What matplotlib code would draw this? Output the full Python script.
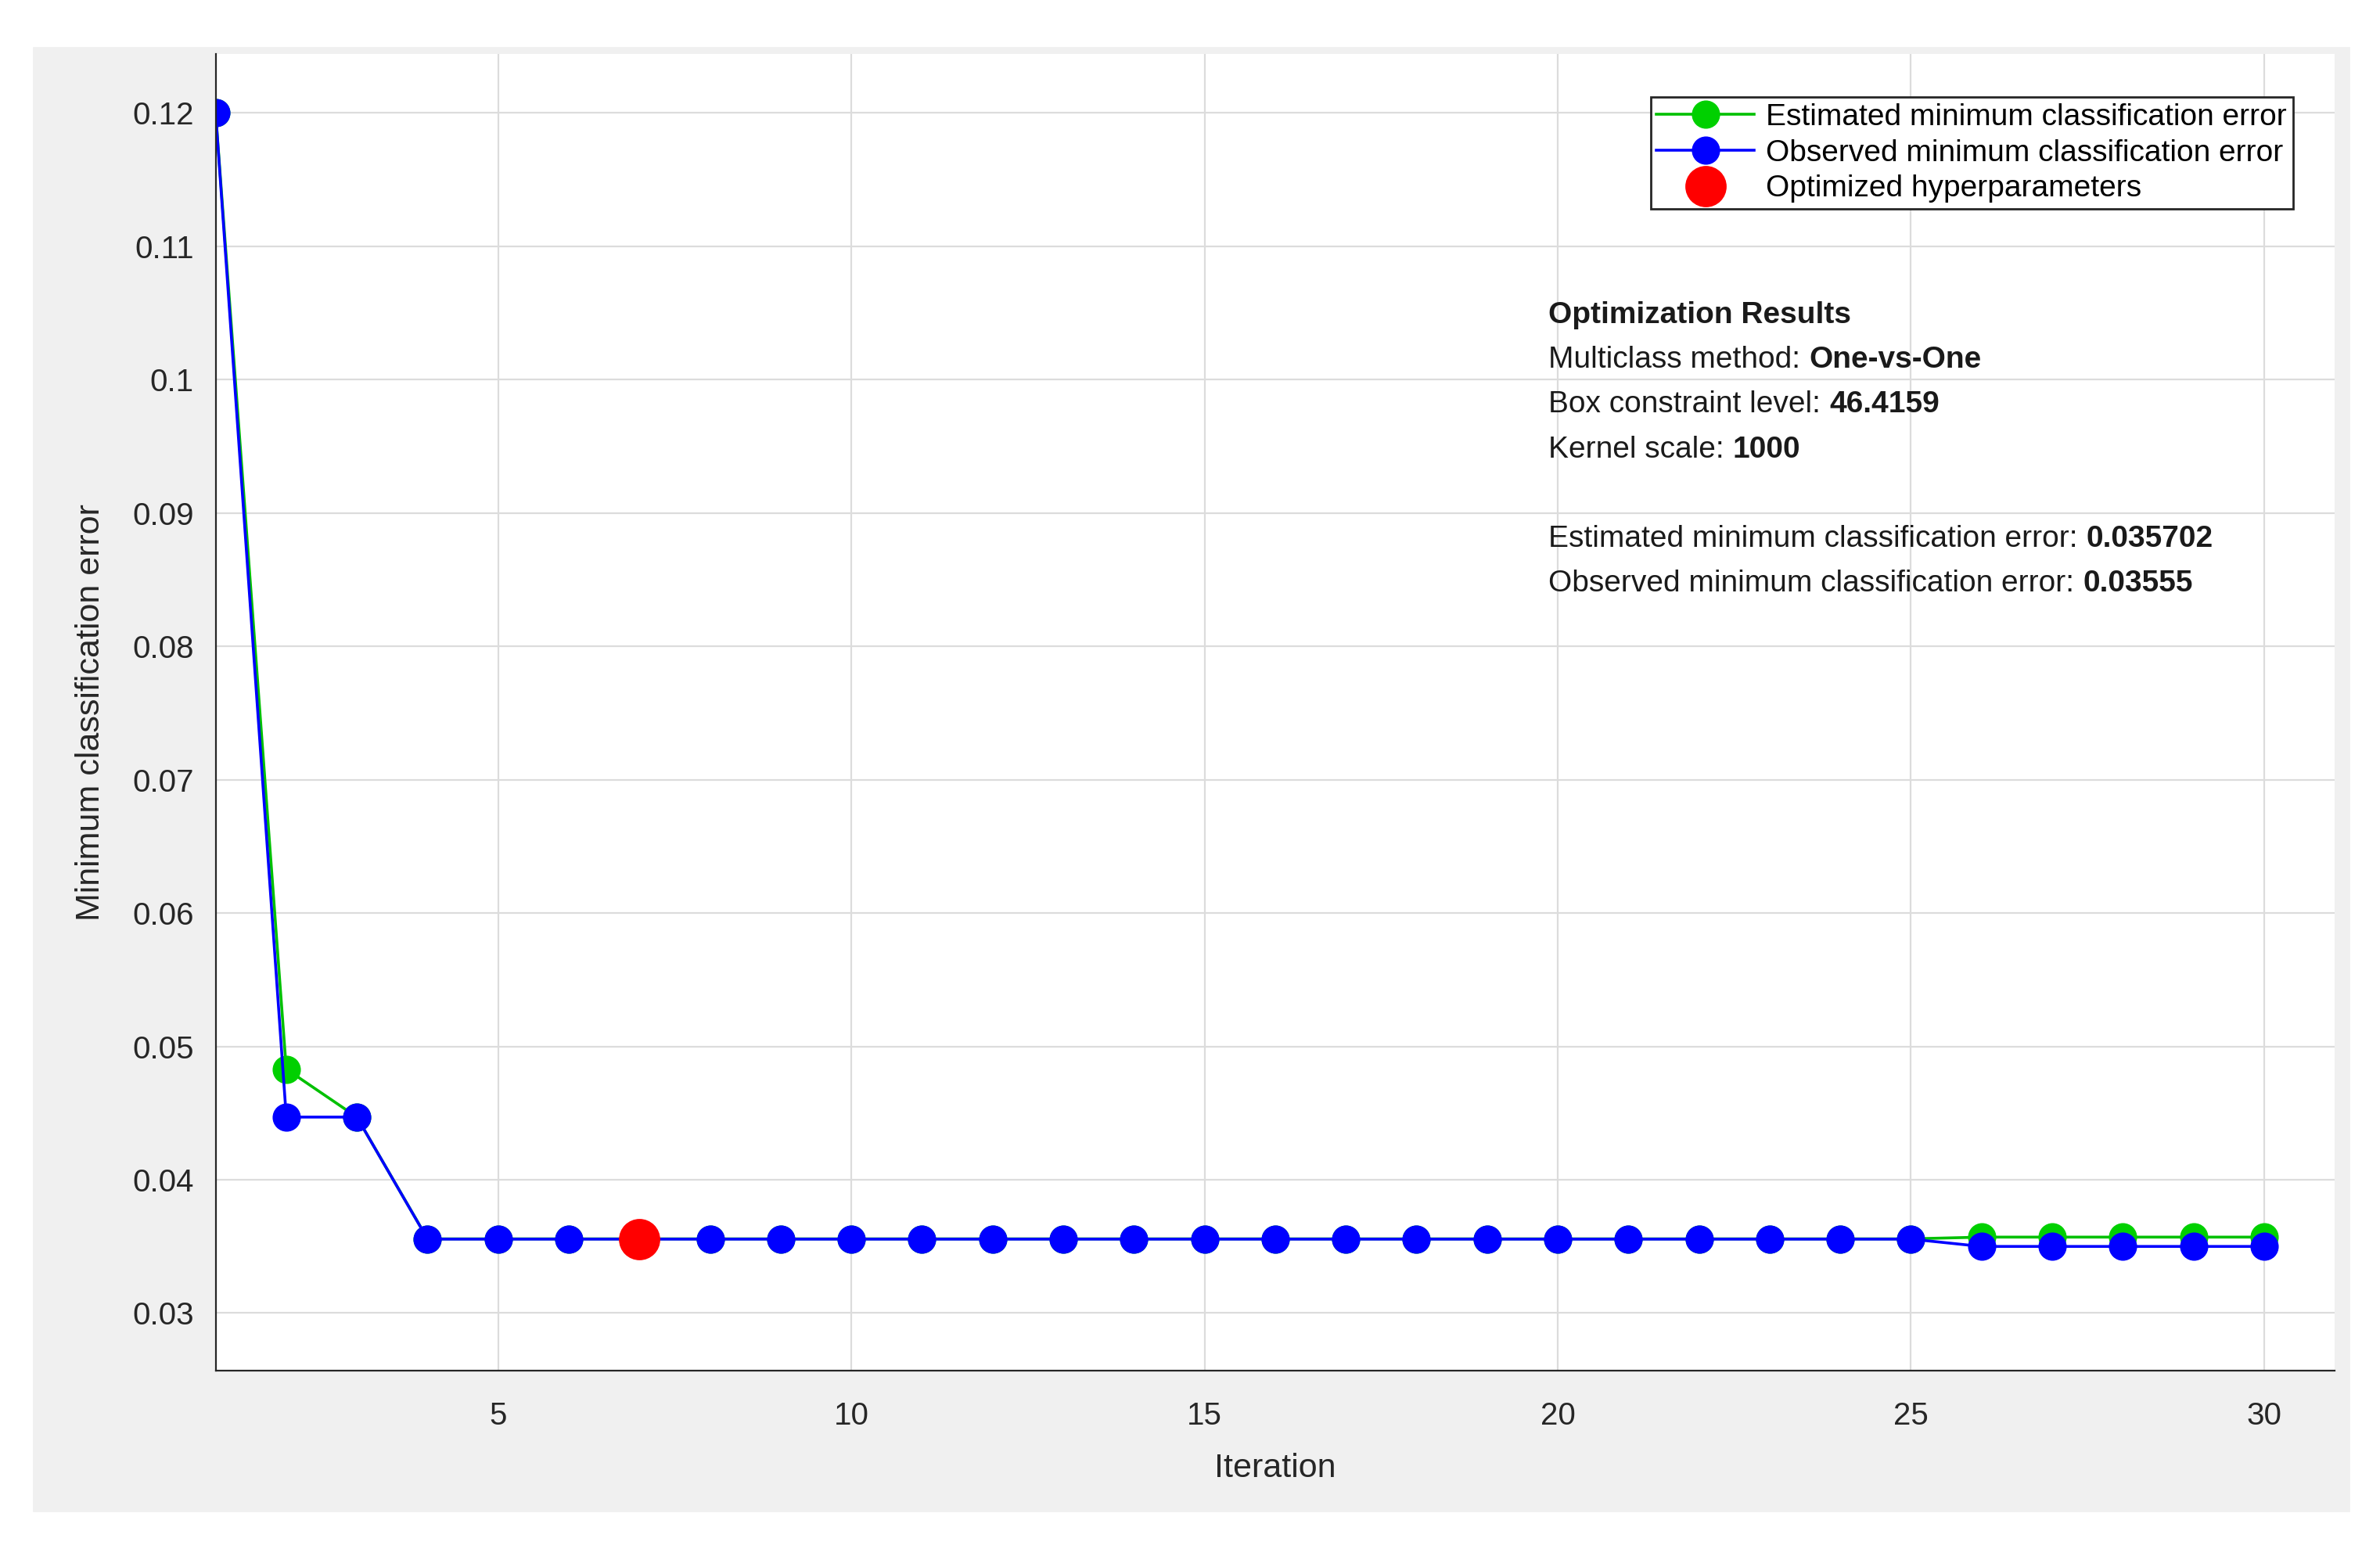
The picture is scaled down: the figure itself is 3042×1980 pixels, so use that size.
import matplotlib.pyplot as plt
from matplotlib.patches import Rectangle
import numpy as np

iterations = np.arange(1, 31)
estimated = [0.12, 0.0483, 0.0447] + [0.03557] * 22 + [0.0357] * 5
observed = [0.12, 0.0447, 0.0447] + [0.03555] * 22 + [0.0350] * 5
best_iter = 7
best_value = 0.03555

yticks = [0.03, 0.04, 0.05, 0.06, 0.07, 0.08, 0.09, 0.1, 0.11, 0.12]
yticklabels = ['0.03', '0.04', '0.05', '0.06', '0.07', '0.08', '0.09', '0.1', '0.11', '0.12']
xticks = [5, 10, 15, 20, 25, 30]

results = [
    ('Multiclass method: ', 'One-vs-One'),
    ('Box constraint level: ', '46.4159'),
    ('Kernel scale: ', '1000'),
    ('', ''),
    ('Estimated minimum classification error: ', '0.035702'),
    ('Observed minimum classification error: ', '0.03555'),
]

plt.rcParams['font.family'] = ['Liberation Sans', 'DejaVu Sans']
fig = plt.figure(figsize=(15.21, 9.9), dpi=200)
fig.patches.append(Rectangle((0.014, 0.025), 0.973, 0.944, transform=fig.transFigure,
                             color='#f0f0f0', zorder=-10))
ax = fig.add_axes([0.0906, 0.115, 0.8904, 0.85])
ax.set_facecolor('white')

ax.plot(iterations, estimated, '-o', color='#00c000', markerfacecolor='#00d000',
        markeredgecolor='#00d000', markersize=12, lw=1.3, label='Estimated minimum classification error')
ax.plot(iterations, observed, '-o', color='#0000ff', markerfacecolor='#0000ff',
        markersize=12, lw=1.3, label='Observed minimum classification error')
ax.plot([best_iter], [best_value], 'o', color='#ff0000', markersize=18, ls='none',
        label='Optimized hyperparameters')

ax.set_xlim(1, 31)
ax.set_ylim(0.02567, 0.1244)
ax.set_xticks(xticks)
ax.set_yticks(yticks)
ax.set_yticklabels(yticklabels)
ax.grid(True, color='#dcdcdc', lw=0.8)
ax.set_axisbelow(True)
for s in ['top', 'right']:
    ax.spines[s].set_visible(False)
for s in ['left', 'bottom']:
    ax.spines[s].set_color('#262626')
ax.tick_params(labelsize=14.5, colors='#262626', length=0)
ax.tick_params(axis='x', pad=14)
ax.tick_params(axis='y', pad=10)
ax.set_xlabel('Iteration', fontsize=15.5, color='#262626', labelpad=10)
ax.set_ylabel('Minimum classification error', fontsize=15.5, color='#262626', labelpad=12)

leg = ax.legend(loc='upper right', bbox_to_anchor=(0.9875, 0.979), fontsize=14,
                fancybox=False, framealpha=1, handlelength=3.2, borderpad=0.2,
                labelspacing=0.25, handletextpad=0.4)
leg.get_frame().set_edgecolor('#262626')

fs = 14
ax.text(0.629, 0.791, 'Optimization Results', transform=ax.transAxes, fontsize=fs,
        fontweight='bold', va='bottom', color='#1a1a1a')
for i, (plain, bold) in enumerate(results):
    if not plain:
        continue
    y = 0.791 - 0.034 * (i + 1)
    t = ax.text(0.629, y, plain, transform=ax.transAxes, fontsize=fs, va='bottom', color='#1a1a1a')
    ax.annotate(bold, xy=(1, 0), xycoords=t, va='bottom', fontsize=fs,
                fontweight='bold', color='#1a1a1a')

fig.savefig('out.png', dpi=200)
